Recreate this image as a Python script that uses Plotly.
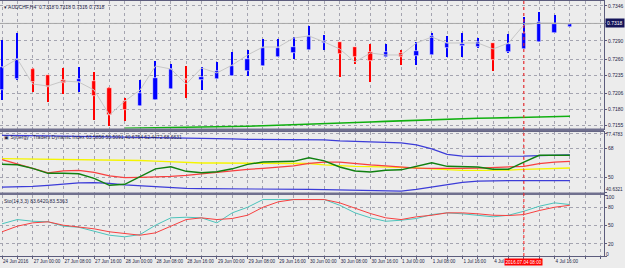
import plotly.graph_objects as go
from plotly.subplots import make_subplots

# ---------------- data ----------------
bar_index = list(range(38))
open_ = [0.72112, 0.72288, 0.72449, 0.72353, 0.72272, 0.72240, 0.72256, 0.72144, 0.71935, 0.71855,
         0.71951, 0.72128, 0.72288, 0.72272, 0.72288, 0.72337, 0.72417, 0.72497, 0.72641, 0.72706,
         0.72754, 0.72866, 0.72882, 0.72802, 0.72722, 0.72641, 0.72706, 0.72658, 0.72674, 0.72786,
         0.72818, 0.72802, 0.72866, 0.72722, 0.72770, 0.72882, 0.73027, 0.73123]
high = [0.72914, 0.73027, 0.72465, 0.72353, 0.72465, 0.72481, 0.72401, 0.72160, 0.71983, 0.72272,
        0.72577, 0.72529, 0.72497, 0.72481, 0.72561, 0.72722, 0.72754, 0.72930, 0.72930, 0.72962,
        0.73139, 0.72995, 0.72882, 0.72802, 0.72850, 0.72850, 0.72754, 0.72882, 0.73027, 0.72979,
        0.73027, 0.72946, 0.72866, 0.73011, 0.73283, 0.73364, 0.73316, 0.73187]
low = [0.71951, 0.72272, 0.72080, 0.71919, 0.72048, 0.72080, 0.71630, 0.71534, 0.71614, 0.71855,
       0.71951, 0.72128, 0.71983, 0.72112, 0.72288, 0.72337, 0.72337, 0.72497, 0.72641, 0.72609,
       0.72754, 0.72754, 0.72320, 0.72529, 0.72240, 0.72641, 0.72513, 0.72513, 0.72674, 0.72641,
       0.72641, 0.72786, 0.72417, 0.72706, 0.72770, 0.72882, 0.73027, 0.73123]
close = [0.72481, 0.72609, 0.72240, 0.72160, 0.72224, 0.72288, 0.72016, 0.71711, 0.71791, 0.72064,
         0.72304, 0.72449, 0.72272, 0.72320, 0.72417, 0.72497, 0.72609, 0.72786, 0.72786, 0.72802,
         0.72979, 0.72898, 0.72690, 0.72641, 0.72577, 0.72722, 0.72641, 0.72738, 0.72979, 0.72866,
         0.72850, 0.72882, 0.72593, 0.72850, 0.73027, 0.73203, 0.73171, 0.73171]
gray_line = [0.72465, 0.72609, 0.72208, 0.72176, 0.72256, 0.72240, 0.72112, 0.71711, 0.71935, 0.72112,
             0.72497, 0.72449, 0.72208, 0.72465, 0.72385, 0.72513, 0.72674, 0.72802, 0.72802, 0.72946,
             0.72979, 0.72882, 0.72770, 0.72561, 0.72706, 0.72674, 0.72674, 0.72866, 0.72962, 0.72866,
             0.72866, 0.72866, 0.72770, 0.72866, 0.73155, 0.73187, 0.73187, 0.73171]
green_line = [None] * 8 + [0.71499, 0.71502, 0.71504, 0.71505, 0.71507, 0.71510, 0.71515, 0.71521,
              0.71531, 0.71537, 0.71544, 0.71553, 0.71563, 0.71574, 0.71582, 0.71589, 0.71598, 0.71609,
              0.71619, 0.71630, 0.71640, 0.71646, 0.71651, 0.71658, 0.71662, 0.71669, 0.71674, 0.71678,
              0.71685, 0.71690]
bid_price = 0.7318

# TDI
tdi_green = [58.05, 57.74, 55.57, 52.46, 52.46, 52.15, 49.36, 45.02, 45.64, 50.60,
             55.26, 56.50, 53.71, 52.77, 53.40, 55.26, 58.05, 59.48, 59.48, 59.91,
             62.08, 60.22, 56.38, 53.89, 53.27, 54.33, 54.64, 56.81, 59.11, 56.81,
             56.38, 56.38, 54.95, 54.95, 59.48, 63.64, 63.64, 63.64]
tdi_red = [60.97, 58.05, 55.57, 52.77, 54.02, 54.33, 53.09, 50.91, 49.79, 49.98,
           50.17, 50.60, 51.22, 52.15, 53.40, 54.02, 54.95, 55.57, 56.19, 57.12,
           58.67, 59.48, 59.48, 58.49, 57.74, 57.12, 56.38, 55.69, 55.57, 55.38,
           55.57, 55.75, 56.00, 56.38, 56.81, 58.49, 59.48, 59.91]
tdi_yellow = [61.59, 61.47, 61.34, 61.28, 61.15, 61.15, 61.03, 60.84, 60.66, 60.41,
              60.04, 59.60, 59.17, 58.86, 58.86, 58.86, 58.86, 58.86, 58.86, 58.80,
              58.55, 57.74, 57.12, 56.81, 56.62, 56.50, 56.38, 55.88, 55.26, 54.64,
              54.33, 54.33, 54.33, 54.45, 54.95, 55.26, 55.57, 55.75]
tdi_upper = [76.05, 76.05, 75.93, 75.74, 75.55, 75.43, 75.31, 75.24, 75.12, 74.99,
             74.93, 74.81, 74.62, 74.37, 74.00, 73.88, 73.57, 73.57, 73.57, 73.57,
             73.44, 73.26, 72.64, 72.33, 72.02, 71.40, 71.40, 70.15, 67.67, 64.26,
             63.14, 63.02, 63.02, 63.02, 63.14, 63.52, 63.64, 63.95]
tdi_lower = [43.96, 44.08, 44.39, 45.02, 45.95, 46.57, 46.70, 46.26, 45.33, 44.70,
             44.08, 43.78, 43.15, 42.97, 42.97, 42.97, 42.97, 42.97, 42.97, 42.85,
             42.53, 42.35, 42.22, 41.91, 41.79, 41.60, 41.48, 42.53, 44.08, 45.64,
             46.88, 47.68, 47.93, 47.93, 47.93, 47.93, 47.93, 47.93]

# Stochastic
sto_main = [52.8, 59.8, 57.0, 56.1, 48.9, 47.2, 40.7, 34.1, 31.5, 35.2,
            50.5, 62.6, 63.6, 62.6, 54.4, 70.8, 80.0, 92.6, 92.6, 92.6,
            92.6, 92.6, 83.3, 70.8, 62.6, 57.0, 58.7, 61.5, 68.0, 70.8,
            69.2, 66.9, 64.3, 66.9, 73.4, 81.6, 87.2, 84.4]
sto_signal = [39.7, 48.9, 54.4, 56.1, 50.5, 47.2, 44.6, 39.7, 36.4, 34.1,
              38.0, 48.9, 59.8, 62.6, 59.8, 61.5, 66.9, 80.0, 88.9, 92.6,
              92.6, 92.6, 87.2, 77.9, 69.7, 62.6, 59.8, 64.3, 66.9, 70.8,
              70.8, 69.2, 66.9, 66.4, 68.0, 74.6, 80.0, 83.3]

x_label_index = list(range(0, 38, 2))
x_label_text = ["24 Jun 2016", "27 Jun 00:00", "27 Jun 08:00", "27 Jun 16:00", "28 Jun 00:00",
                "28 Jun 08:00", "28 Jun 16:00", "29 Jun 00:00", "29 Jun 08:00", "29 Jun 16:00",
                "30 Jun 00:00", "30 Jun 08:00", "30 Jun 16:00", "1 Jul 00:00", "1 Jul 08:00",
                "1 Jul 16:00", "4 Jul 00:00", "", "4 Jul 16:00"]
marker_index = 34
marker_text = "2016.07.04 08:00"

price_ticks = [0.7346, 0.7318, 0.7290, 0.7260, 0.7235, 0.7206, 0.7180, 0.7155]
tdi_ticks = [77.4783, 68, 50, 40.6321]
sto_ticks = [100, 80, 50, 20, 0]

title_main = "\u25BE AUDCHF,H4  0.7318 0.7318 0.7316 0.7318"
title_tdi = "\u25A3 Synergy - Traders Dynamic Index 63.5858 55.5091 40.6754 62.4472 68.6631"
title_sto = "Sto(14,3,3) 83.6420 83.5363"

# ---------------- styling ----------------
BG = "#ececec"
FRAME = "#5c5c7c"
GRID = "#a4a4b0"
TXT = "#1e1e46"
UP = "#0000ff"
DN = "#ff0000"
FONT = "Liberation Sans"
FS = 5
XFS = 4.6

fig = make_subplots(rows=3, cols=1, shared_xaxes=True, vertical_spacing=0)

colors = [UP if c >= o else DN for o, c in zip(open_, close)]
body_base = [min(o, c) for o, c in zip(open_, close)]
body_h = [max(abs(c - o), 0.00004) for o, c in zip(open_, close)]
wick_h = [h - l for h, l in zip(high, low)]

fig.add_trace(go.Scatter(x=bar_index, y=gray_line, mode="lines",
                         line=dict(color="#c6c6c6", width=1)), row=1, col=1)
fig.add_trace(go.Scatter(x=bar_index, y=green_line, mode="lines",
                         line=dict(color="#10b010", width=1.6)), row=1, col=1)
fig.add_trace(go.Bar(x=bar_index, y=wick_h, base=low, width=0.07,
                     marker=dict(color=colors, line=dict(width=0))), row=1, col=1)
fig.add_trace(go.Bar(x=bar_index, y=body_h, base=body_base, width=0.28,
                     marker=dict(color=colors, line=dict(color="white", width=0.6))), row=1, col=1)

fig.add_trace(go.Scatter(x=bar_index, y=tdi_upper, mode="lines",
                         line=dict(color="#3c3cd8", width=1.2)), row=2, col=1)
fig.add_trace(go.Scatter(x=bar_index, y=tdi_lower, mode="lines",
                         line=dict(color="#3c3cd8", width=1.2)), row=2, col=1)
fig.add_trace(go.Scatter(x=bar_index, y=tdi_yellow, mode="lines",
                         line=dict(color="#f5f500", width=1.4)), row=2, col=1)
fig.add_trace(go.Scatter(x=bar_index, y=tdi_red, mode="lines",
                         line=dict(color="#f84040", width=1.2)), row=2, col=1)
fig.add_trace(go.Scatter(x=bar_index, y=tdi_green, mode="lines",
                         line=dict(color="#108010", width=1.5)), row=2, col=1)

fig.add_trace(go.Scatter(x=bar_index, y=sto_main, mode="lines",
                         line=dict(color="#4cc4bc", width=1)), row=3, col=1)
fig.add_trace(go.Scatter(x=bar_index, y=sto_signal, mode="lines",
                         line=dict(color="#f84040", width=1)), row=3, col=1)

grid_vals = list(range(0, 40))
tick_text_all = []
for i in grid_vals:
    if i in x_label_index:
        tick_text_all.append(x_label_text[x_label_index.index(i)])
    else:
        tick_text_all.append("")

xcommon = dict(range=[-0.13, 39.22], tickmode="array", tickvals=grid_vals,
               showgrid=True, gridcolor=GRID, griddash="dot", gridwidth=1,
               showline=True, mirror=True, linecolor=FRAME, linewidth=1,
               zeroline=False, fixedrange=True, automargin=False, tickangle=0)
fig.update_xaxes(**xcommon)
fig.update_xaxes(ticktext=tick_text_all, ticks="outside", ticklen=2, tickcolor=FRAME,
                 ticklabelposition="outside right",
                 tickfont=dict(family=FONT, size=XFS, color=TXT), row=3, col=1)

ycommon = dict(side="right", showgrid=True, gridcolor=GRID, griddash="dot", gridwidth=1,
               showline=True, mirror=True, linecolor=FRAME, linewidth=1, zeroline=False,
               ticks="outside", ticklen=2, tickcolor=FRAME, automargin=False,
               tickfont=dict(family=FONT, size=FS, color=TXT), fixedrange=True)
fig.update_yaxes(**ycommon)
fig.update_yaxes(domain=[0.5, 1.0], range=[0.71494, 0.73540], tickvals=price_ticks,
                 ticktext=["%.4f" % v for v in price_ticks], row=1, col=1)
# edge labels of the indicator windows are drawn as annotations (offset inward)
fig.update_yaxes(domain=[0.249, 0.488], range=[40.57, 78.43], tickvals=tdi_ticks,
                 ticktext=["", "68", "50", ""], row=2, col=1)
fig.update_yaxes(domain=[0.0, 0.239], range=[0, 100], tickvals=sto_ticks,
                 ticktext=["", "80", "50", "20", ""], row=3, col=1)

shapes = [
    dict(type="line", xref="x domain", x0=0, x1=1, yref="y", y0=bid_price, y1=bid_price,
         line=dict(color="#a8a8a8", width=1)),
    dict(type="rect", xref="paper", x0=0, x1=1, yref="paper", y0=0.488, y1=0.5,
         fillcolor="#70708e", line=dict(width=0)),
    dict(type="rect", xref="paper", x0=0, x1=1, yref="paper", y0=0.239, y1=0.249,
         fillcolor="#70708e", line=dict(width=0)),
    dict(type="line", xref="x", x0=marker_index, x1=marker_index, yref="paper", y0=0, y1=1,
         line=dict(color="#ff2020", width=1, dash="dot")),
]

def edge_label(text, yref, yval, shift, size=FS):
    return dict(xref="paper", yref=yref, x=1.0, y=yval, xanchor="left", yanchor="middle",
                text=text, showarrow=False, xshift=1, yshift=shift, borderpad=0,
                font=dict(family=FONT, size=size, color=TXT))

annotations = [
    dict(xref="paper", yref="paper", x=0.004, y=0.996, xanchor="left", yanchor="top",
         text=title_main, showarrow=False, font=dict(family=FONT, size=FS, color=TXT)),
    dict(xref="paper", yref="paper", x=0.004, y=0.485, xanchor="left", yanchor="top",
         text=title_tdi, showarrow=False, font=dict(family=FONT, size=FS, color=TXT)),
    dict(xref="paper", yref="paper", x=0.004, y=0.236, xanchor="left", yanchor="top",
         text=title_sto, showarrow=False, font=dict(family=FONT, size=FS, color=TXT)),
    dict(xref="paper", yref="y", x=1.0, y=bid_price, xanchor="left", yanchor="middle",
         text="%.4f" % bid_price, showarrow=False, bgcolor="#14145a", borderpad=1, xshift=1,
         font=dict(family=FONT, size=FS, color="white")),
    dict(xref="x", yref="paper", x=marker_index, y=0, xanchor="center", yanchor="top",
         text=marker_text, showarrow=False, bgcolor="#ff0000", borderpad=0.5, yshift=-2,
         font=dict(family=FONT, size=XFS, color="white")),
    edge_label("%g" % tdi_ticks[0], "y2", tdi_ticks[0], -1, 4.6),
    edge_label("%g" % tdi_ticks[-1], "y2", tdi_ticks[-1], 2.5, 4.6),
    edge_label(str(sto_ticks[0]), "y3", sto_ticks[0], -1.5),
    edge_label(str(sto_ticks[-1]), "y3", sto_ticks[-1], 2.5),
]

fig.update_layout(width=625, height=268, margin=dict(l=0, r=21, t=1, b=12, autoexpand=False),
                  paper_bgcolor=BG, plot_bgcolor=BG, showlegend=False,
                  barmode="overlay", bargap=0, shapes=shapes, annotations=annotations,
                  font=dict(family=FONT, size=FS, color=TXT))

fig.write_html("out.html", config={"displayModeBar": False})
